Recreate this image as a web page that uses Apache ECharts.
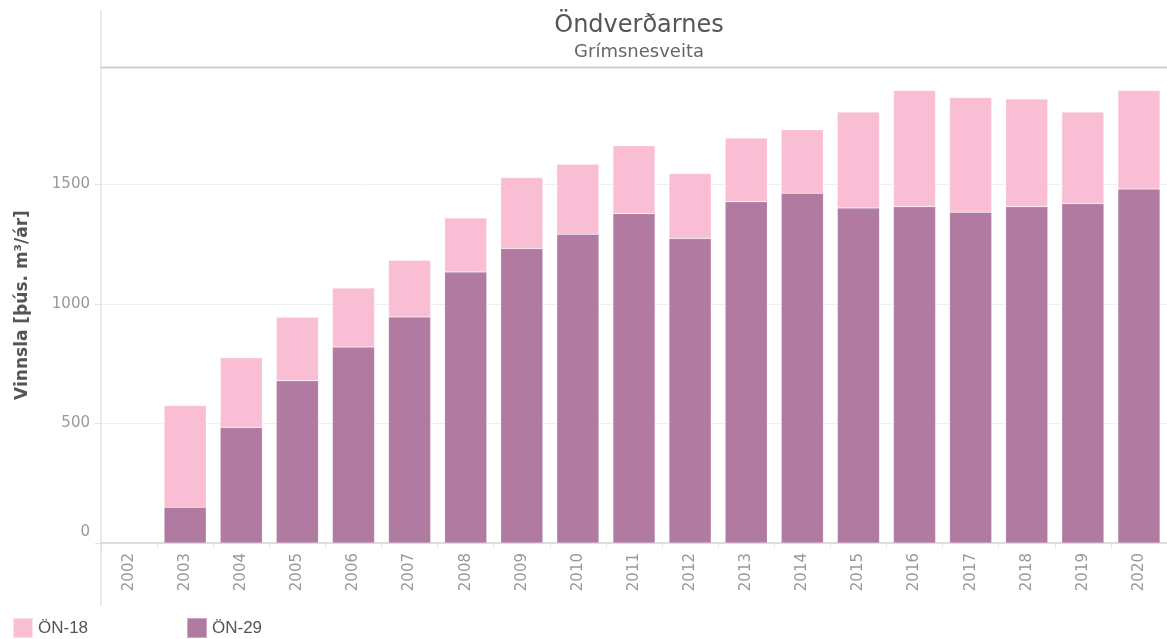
<!DOCTYPE html>
<html>
<head>
<meta charset="utf-8">
<script src="https://cdn.jsdelivr.net/npm/echarts@6/dist/echarts.min.js"></script>
<style>
    html, body { margin: 0; padding: 0; background: #fff; }
    #main { width: 1167px; height: 639px; }
</style>
</head>
<body>
<div id="main"></div>
<script>
// 年份
var years = ['2002', '2003', '2004', '2005', '2006', '2007', '2008', '2009', '2010', '2011',
             '2012', '2013', '2014', '2015', '2016', '2017', '2018', '2019', '2020'];
// ÖN-29 (neðri hluti)
var on29 = [null, 149, 483, 678, 819, 945, 1133, 1231, 1291, 1377,
            1273, 1427, 1462, 1401, 1406, 1383, 1406, 1419, 1480];
// ÖN-18 (efri hluti)
var on18 = [null, 426, 291, 266, 247, 237, 226, 297, 292, 284,
            272, 266, 266, 401, 486, 480, 450, 383, 412];
var yTicks = [0, 500, 1000, 1500];

var chart = echarts.init(document.getElementById('main'));

var option = {
    animation: false,
    title: {
        text: 'Öndverðarnes',
        subtext: 'Grímsnesveita',
        left: 634,
        textAlign: 'center',
        top: 9,
        itemGap: 5,
        textStyle: { fontFamily: 'DejaVu Sans', fontSize: 24, fontWeight: 'normal', color: '#555' },
        subtextStyle: { fontFamily: 'DejaVu Sans', fontSize: 18, color: '#666' }
    },
    legend: [
        {
            data: ['ÖN-18'],
            left: 7, top: 612,
            icon: 'rect',
            itemWidth: 20, itemHeight: 20,
            textStyle: { fontFamily: 'Liberation Sans', fontSize: 17, color: '#555' }
        },
        {
            data: ['ÖN-29'],
            left: 181, top: 612,
            icon: 'rect',
            itemWidth: 20, itemHeight: 20,
            textStyle: { fontFamily: 'Liberation Sans', fontSize: 17, color: '#555' }
        }
    ],
    grid: { left: 101, right: 0, top: 67, bottom: 96 },
    xAxis: {
        type: 'category',
        data: years,
        axisLine: { lineStyle: { color: '#ddd', width: 2 } },
        axisTick: { show: true, length: 5, lineStyle: { color: '#e6e6e6' } },
        axisLabel: {
            rotate: 90, margin: 10,
            fontFamily: 'DejaVu Sans', fontSize: 15, color: '#999'
        }
    },
    yAxis: {
        type: 'value',
        min: 0, max: 1990, interval: 500,
        name: 'Vinnsla [þús. m³/ár]',
        nameLocation: 'middle',
        nameGap: 70,
        nameTextStyle: { fontFamily: 'DejaVu Sans', fontSize: 17, fontWeight: 'bold', color: '#555' },
        axisLine: { show: false },
        axisTick: { show: true, length: 6, lineStyle: { color: '#e3e3e3' } },
        splitLine: { lineStyle: { color: '#f0f0f0' } },
        axisLabel: {
            margin: 11,
            fontFamily: 'DejaVu Sans', fontSize: 15, color: '#999',
            formatter: function (v) {
                if (yTicks.indexOf(v) < 0) return '';
                return v === 0 ? '{z|0}' : String(v);
            },
            rich: { z: { fontFamily: 'DejaVu Sans', fontSize: 15, color: '#999', padding: [0, 0, 22, 0] } }
        }
    },
    series: [
        {
            name: 'ÖN-29',
            type: 'bar',
            stack: 'vinnsla',
            data: on29,
            barCategoryGap: '25%',
            itemStyle: { color: '#B07AA1', borderColor: 'rgba(255,255,255,0.35)', borderWidth: 0.5 }
        },
        {
            name: 'ÖN-18',
            type: 'bar',
            stack: 'vinnsla',
            data: on18,
            barCategoryGap: '25%',
            itemStyle: { color: '#F9BED3', borderColor: 'rgba(255,255,255,0.5)', borderWidth: 0.5 }
        }
    ],
    graphic: [
        // hylja efsta tick
        { type: 'rect', z: 100, shape: { x: 90, y: 62, width: 10, height: 10 }, style: { fill: '#fff' } },
        { type: 'line', z: 101, shape: { x1: 101, y1: 10, x2: 101, y2: 606 }, style: { stroke: '#d4d4d4', lineWidth: 1 } },
        { type: 'line', z: 101, shape: { x1: 101, y1: 67.5, x2: 1167, y2: 67.5 }, style: { stroke: '#cfcfcf', lineWidth: 2 } }
    ]
};

chart.setOption(option);
</script>
</body>
</html>
